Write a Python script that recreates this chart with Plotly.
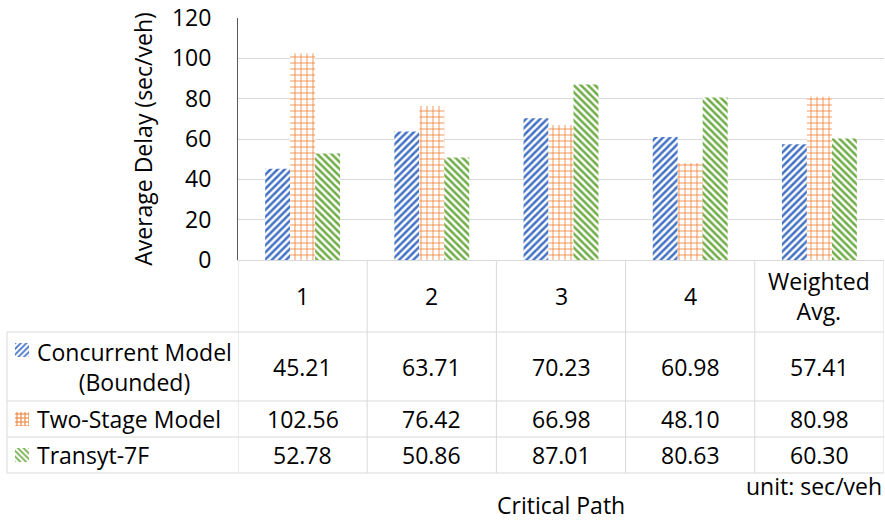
import plotly.graph_objects as go

# ---- data ----
categories = ["1", "2", "3", "4", "Weighted Avg."]
header_labels = ["1", "2", "3", "4", "Weighted<br>Avg."]
series_names = ["Concurrent Model (Bounded)", "Two-Stage Model", "Transyt-7F"]
row_labels = ["Concurrent Model<br>(Bounded)", "Two-Stage Model", "Transyt-7F"]
concurrent = [45.21, 63.71, 70.23, 60.98, 57.41]
two_stage = [102.56, 76.42, 66.98, 48.10, 80.98]
transyt = [52.78, 50.86, 87.01, 80.63, 60.30]
y_ticks = [0, 20, 40, 60, 80, 100, 120]

W, H = 885, 520
def px(x):
    return x / W
def py(y):
    return 1 - y / H

FONT = "Open Sans"
FS = 23
colors = ["#4472C4", "#ED7D31", "#70AD47"]
shapes_pat = ["/", "+", "\\"]
pat_size = [5, 6, 5]
pat_sol = [0.5, 0.25, 0.5]
values = [concurrent, two_stage, transyt]

fig = go.Figure()
for name, vals, c, s, sz, so in zip(series_names, values, colors, shapes_pat, pat_size, pat_sol):
    fig.add_trace(go.Bar(
        x=categories, y=vals, name=name,
        marker=dict(color="white", line=dict(width=0),
                    pattern=dict(shape=s, fgcolor=c, bgcolor="white", size=sz,
                                 solidity=so, fillmode="overlay", fgopacity=1)),
        showlegend=False, hoverinfo="skip",
    ))

# legend keys inside the data table (small patterned bars on helper axes)
row_key_px = [350, 419, 455]
for name, c, s, yc in zip(series_names, colors, shapes_pat, row_key_px):
    fig.add_trace(go.Bar(
        x=[1], y=[yc], orientation="h", width=14, xaxis="x2", yaxis="y2",
        marker=dict(color="white", line=dict(width=0),
                    pattern=dict(shape=s, fgcolor=c, bgcolor="white", size=4,
                                 solidity=0.45, fillmode="overlay", fgopacity=1)),
        showlegend=False, hoverinfo="skip",
    ))

grid = "#D9D9D9"
fig.update_layout(
    width=W, height=H,
    margin=dict(l=0, r=0, t=0, b=0, pad=0, autoexpand=False),
    paper_bgcolor="white", plot_bgcolor="white",
    barmode="group", bargap=0.42, bargroupgap=0,
    font=dict(family=FONT, size=FS, color="#000000"),
    xaxis=dict(domain=[px(238), px(884)], type="category", range=[-0.5, 4.5],
               showticklabels=False, ticks="", showgrid=False, automargin=False,
               showline=True, linecolor=grid, linewidth=1, anchor="y"),
    yaxis=dict(domain=[py(260), py(18)], range=[0, 120], tickvals=y_ticks,
               showgrid=True, gridcolor=grid, gridwidth=1, zeroline=False,
               showline=True, linecolor="#595959", linewidth=1, automargin=False,
               ticks="", ticklabelstandoff=21,
               tickfont=dict(family=FONT, size=FS),
               title=dict(text="Average Delay (sec/veh)", standoff=12,
                          font=dict(family=FONT, size=FS))),
    xaxis2=dict(domain=[px(15), px(29)], range=[0, 1], visible=False, anchor="y2",
                automargin=False),
    yaxis2=dict(domain=[py(473), py(332)], range=[473, 332], visible=False, anchor="x2",
                automargin=False),
)

shapes = []
for yy in [332, 401, 437, 473]:
    shapes.append(dict(type="line", xref="paper", yref="paper", x0=px(7), x1=px(884),
                       y0=py(yy), y1=py(yy), line=dict(color=grid, width=1)))
shapes.append(dict(type="line", xref="paper", yref="paper", x0=px(7), x1=px(7),
                   y0=py(332), y1=py(473), line=dict(color=grid, width=1)))
for i in range(len(categories) + 1):
    shapes.append(dict(type="line", xref="x", yref="paper", x0=i - 0.5, x1=i - 0.5,
                       y0=py(260), y1=py(473), line=dict(color=grid, width=1)))
fig.update_layout(shapes=shapes)

ann = []
for i, lab in enumerate(header_labels):
    ann.append(dict(x=i, xref="x", y=py(296), yref="paper", text=lab, showarrow=False,
                    xanchor="center", yanchor="middle", align="center"))
row_mid = [366.5, 419, 455]
for vals, ym in zip(values, row_mid):
    for i, v in enumerate(vals):
        ann.append(dict(x=i, xref="x", y=py(ym), yref="paper", text=f"{v:.2f}",
                        showarrow=False, xanchor="center", yanchor="middle"))
for lab, ym in zip(row_labels, row_mid):
    ann.append(dict(x=px(35), xref="paper", y=py(ym), yref="paper", text=lab,
                    showarrow=False, xanchor="left", yanchor="middle", align="center"))
ann.append(dict(x=px(561), xref="paper", y=py(505), yref="paper", text="Critical Path",
                showarrow=False, xanchor="center", yanchor="middle"))
ann.append(dict(x=px(884), xref="paper", y=py(486), yref="paper", text="unit: sec/veh",
                showarrow=False, xanchor="right", yanchor="middle"))
fig.update_layout(annotations=ann)

fig.write_html("out.html", config={"displayModeBar": False},
               post_script="document.body.style.margin='0';")
